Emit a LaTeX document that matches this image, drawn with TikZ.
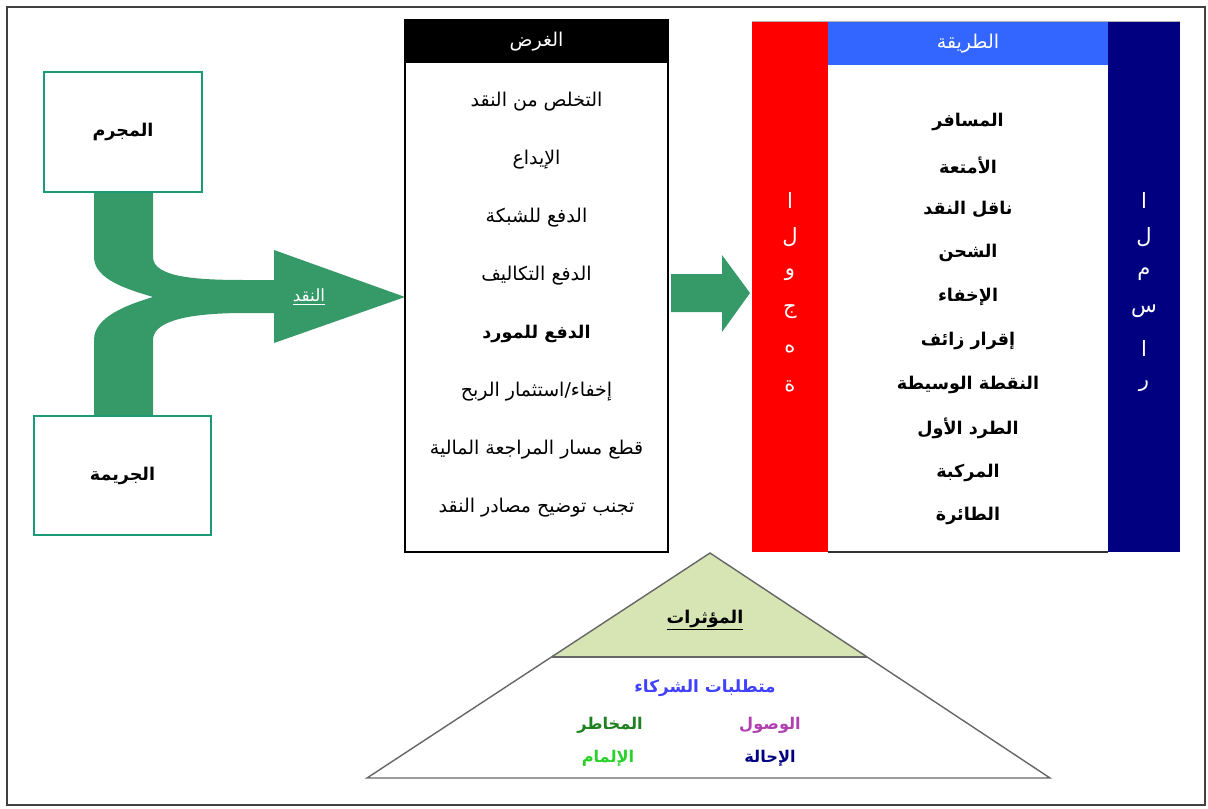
\documentclass[tikz,border=0pt]{standalone}
\usepackage{fontspec}
\setmainfont{DejaVu Sans}
\newfontfamily\arabicfont[Script=Arabic]{DejaVu Sans}
\TeXXeTstate=1
\usetikzlibrary{positioning}

\definecolor{verde}{RGB}{54,153,104}
\definecolor{bordeverde}{RGB}{26,154,118}
\definecolor{azulclaro}{RGB}{51,102,255}
\definecolor{marino}{RGB}{0,0,128}
\definecolor{pasto}{RGB}{215,228,180}
\definecolor{violeta}{RGB}{176,64,176}
\definecolor{azulsocio}{RGB}{64,64,255}
\definecolor{verdeosc}{RGB}{30,128,30}
\definecolor{verdeclaro}{RGB}{40,210,40}

\newcommand{\rtl}[1]{\beginR #1\endR}

\begin{document}
\begin{tikzpicture}[x=0.025cm, y=-0.025cm,
                  caja/.style={draw=bordeverde, line width=1.6pt, fill=white},
                  texto/.style={font=\arabicfont\fontsize{13.5}{15}\selectfont},
                  titulo/.style={font=\arabicfont\fontsize{13.5}{15}\selectfont},
                  item/.style={font=\arabicfont\bfseries\fontsize{11.5}{13}\selectfont},
                  metodo/.style={font=\arabicfont\bfseries\fontsize{12.5}{14}\selectfont,
                                 node distance=1.095cm},
                  letra/.style={text=white, font=\arabicfont\fontsize{15}{17}\selectfont,
                                node distance=0.93cm}]

                  \useasboundingbox (0,0) rectangle (1208,808);
                  \draw[black!75, line width=1.4pt] (7,7) rectangle (1205,805);

                  % Cajas del origen y la flecha verde que las une.
                  \node[caja, font=\arabicfont\bfseries\fontsize{12.5}{14}\selectfont,
                  minimum width=158*0.025cm, minimum height=120*0.025cm]
                  (mujrim) at (123,132) {\rtl{المجرم}};
                  \node[caja, font=\arabicfont\bfseries\fontsize{12.5}{14}\selectfont,
                  minimum width=177*0.025cm, minimum height=119*0.025cm]
                  (jarima) at (122.5,475.5) {\rtl{الجريمة}};
                  \fill[verde] (mujrim.south -| 94,0) -- (94,257)
                  .. controls (94,280) and (130,290) .. (153,297)
                  .. controls (130,304) and (94,316) .. (94,340)
                  -- (jarima.north -| 94,0) -- (jarima.north -| 153,0) -- (153,340)
                  .. controls (153,318) and (200,313) .. (245,313) -- (274,313)
                  -- (274,343) -- (405,297) -- (274,250) -- (274,280) -- (245,280)
                  .. controls (200,280) and (153,278) .. (153,257)
                  -- (mujrim.south -| 153,0) -- cycle;
                  \node[font=\arabicfont\fontsize{12}{14}\selectfont, text=white]
                  (naqd) at (309,297) {\underline{\rtl{النقد}}};

                  % Caja del propósito.
                  \node[draw, line width=1.6pt, minimum width=263*0.025cm,
                  minimum height=532*0.025cm] (gharad) at (536.5,286) {};
                  \node[fill=black, text=white, titulo, minimum width=263*0.025cm,
                  minimum height=44*0.025cm, anchor=north] (gharadT) at (gharad.north) {\rtl{الغرض}};
                  \node[texto, node distance=1.4475cm] (g1) at (536.5,102) {\rtl{التخلص من النقد}};
                  \node[texto, node distance=1.4475cm, below of=g1] (g2) {\rtl{الإيداع}};
                  \node[texto, node distance=1.4475cm, below of=g2] (g3) {\rtl{الدفع للشبكة}};
                  \node[texto, node distance=1.4475cm, below of=g3] (g4) {\rtl{الدفع التكاليف}};
                  \node[texto, font=\arabicfont\bfseries\fontsize{12.5}{15}\selectfont,
                  node distance=1.4475cm, below of=g4] (g5) {\rtl{الدفع للمورد}};
                  \node[texto, node distance=1.4475cm, below of=g5] (g6) {\rtl{إخفاء/استثمار الربح}};
                  \node[texto, node distance=1.4475cm, below of=g6] (g7) {\rtl{قطع مسار المراجعة المالية}};
                  \node[texto, node distance=1.4475cm, below of=g7] (g8) {\rtl{تجنب توضيح مصادر النقد}};

                  % Flecha hacia el método.
                  \fill[verde] (671,274) -- (722,274) -- (722,255) -- (750,293)
                  -- (722,332) -- (722,312) -- (671,312) -- cycle;

                  % Barras laterales y caja del método.
                  \node[fill=red, minimum width=76*0.025cm, minimum height=530*0.025cm,
                  inner sep=0pt] (wijha) at (790,287) {};
                  \node[fill=marino, minimum width=72*0.025cm, minimum height=530*0.025cm,
                  inner sep=0pt] (masar) at (1144,287) {};
                  \node[fill=azulclaro, text=white, titulo, minimum width=280*0.025cm,
                  minimum height=43*0.025cm, inner sep=0pt] (tariqa) at (968,43.5) {\rtl{الطريقة}};
                  \draw[black!80, line width=1.2pt] (wijha.south east) -- (masar.south west);
                  \draw[black!30, line width=0.6pt] (wijha.north west) -- (masar.north east);

                  \node[metodo] (t1) at (968,122) {\rtl{المسافر}};
                  \node[metodo, below of=t1] (t2) {\rtl{الأمتعة}};
                  \node[metodo, below of=t2] (t3) {\rtl{ناقل النقد}};
                  \node[metodo, below of=t3] (t4) {\rtl{الشحن}};
                  \node[metodo, below of=t4] (t5) {\rtl{الإخفاء}};
                  \node[metodo, below of=t5] (t6) {\rtl{إقرار زائف}};
                  \node[metodo, below of=t6] (t7) {\rtl{النقطة الوسيطة}};
                  \node[metodo, below of=t7] (t8) {\rtl{الطرد الأول}};
                  \node[metodo, below of=t8] (t9) {\rtl{المركبة}};
                  \node[metodo, below of=t9] (t10) {\rtl{الطائرة}};

                  % Letras verticales de las barras.
                  \node[letra] (w1) at (790,200) {\rtl{ا}};
                  \node[letra, below of=w1] (w2) {\rtl{ل}};
                  \node[letra, below of=w2] (w3) {\rtl{و}};
                  \node[letra, below of=w3] (w4) {\rtl{ج}};
                  \node[letra, below of=w4] (w5) {\rtl{ه}};
                  \node[letra, below of=w5] (w6) {\rtl{ة}};
                  \node[letra] (m1) at (1144,200) {\rtl{ا}};
                  \node[letra, below of=m1] (m2) {\rtl{ل}};
                  \node[letra, below of=m2] (m3) {\rtl{م}};
                  \node[letra, below of=m3] (m4) {\rtl{س}};
                  \node[letra, below of=m4] (m5) {\rtl{ا}};
                  \node[letra, below of=m5] (m6) {\rtl{ر}};

                  % Pirámide de los factores.
                  \coordinate (cima) at (710,553);
                  \coordinate (izq) at (367,778);
                  \coordinate (der) at (1050,778);
                  \fill[pasto] (cima) -- (551.5,657) -- (867,657) -- cycle;
                  \draw[black!60, line width=1pt] (cima) -- (der) -- (izq) -- cycle;
                  \draw[black!60, line width=1pt] (551.5,657) -- (867,657);
                  \node[item, font=\arabicfont\bfseries\fontsize{12.5}{15}\selectfont]
                  (muath) at (705,620) {\underline{\rtl{المؤثرات}}};
                  \node[item, font=\arabicfont\bfseries\fontsize{12}{14}\selectfont,
                  text=azulsocio] (shuraka) at (705,688) {\rtl{متطلبات الشركاء}};
                  \node[item, text=violeta] (wusul) at (770,725) {\rtl{الوصول}};
                  \node[item, text=verdeosc] (makhatir) at (610,725) {\rtl{المخاطر}};
                  \node[item, text=marino] (ihala) at (770,758) {\rtl{الإحالة}};
                  \node[item, text=verdeclaro] (ilmam) at (608,758) {\rtl{الإلمام}};

                \end{tikzpicture}
\end{document}
